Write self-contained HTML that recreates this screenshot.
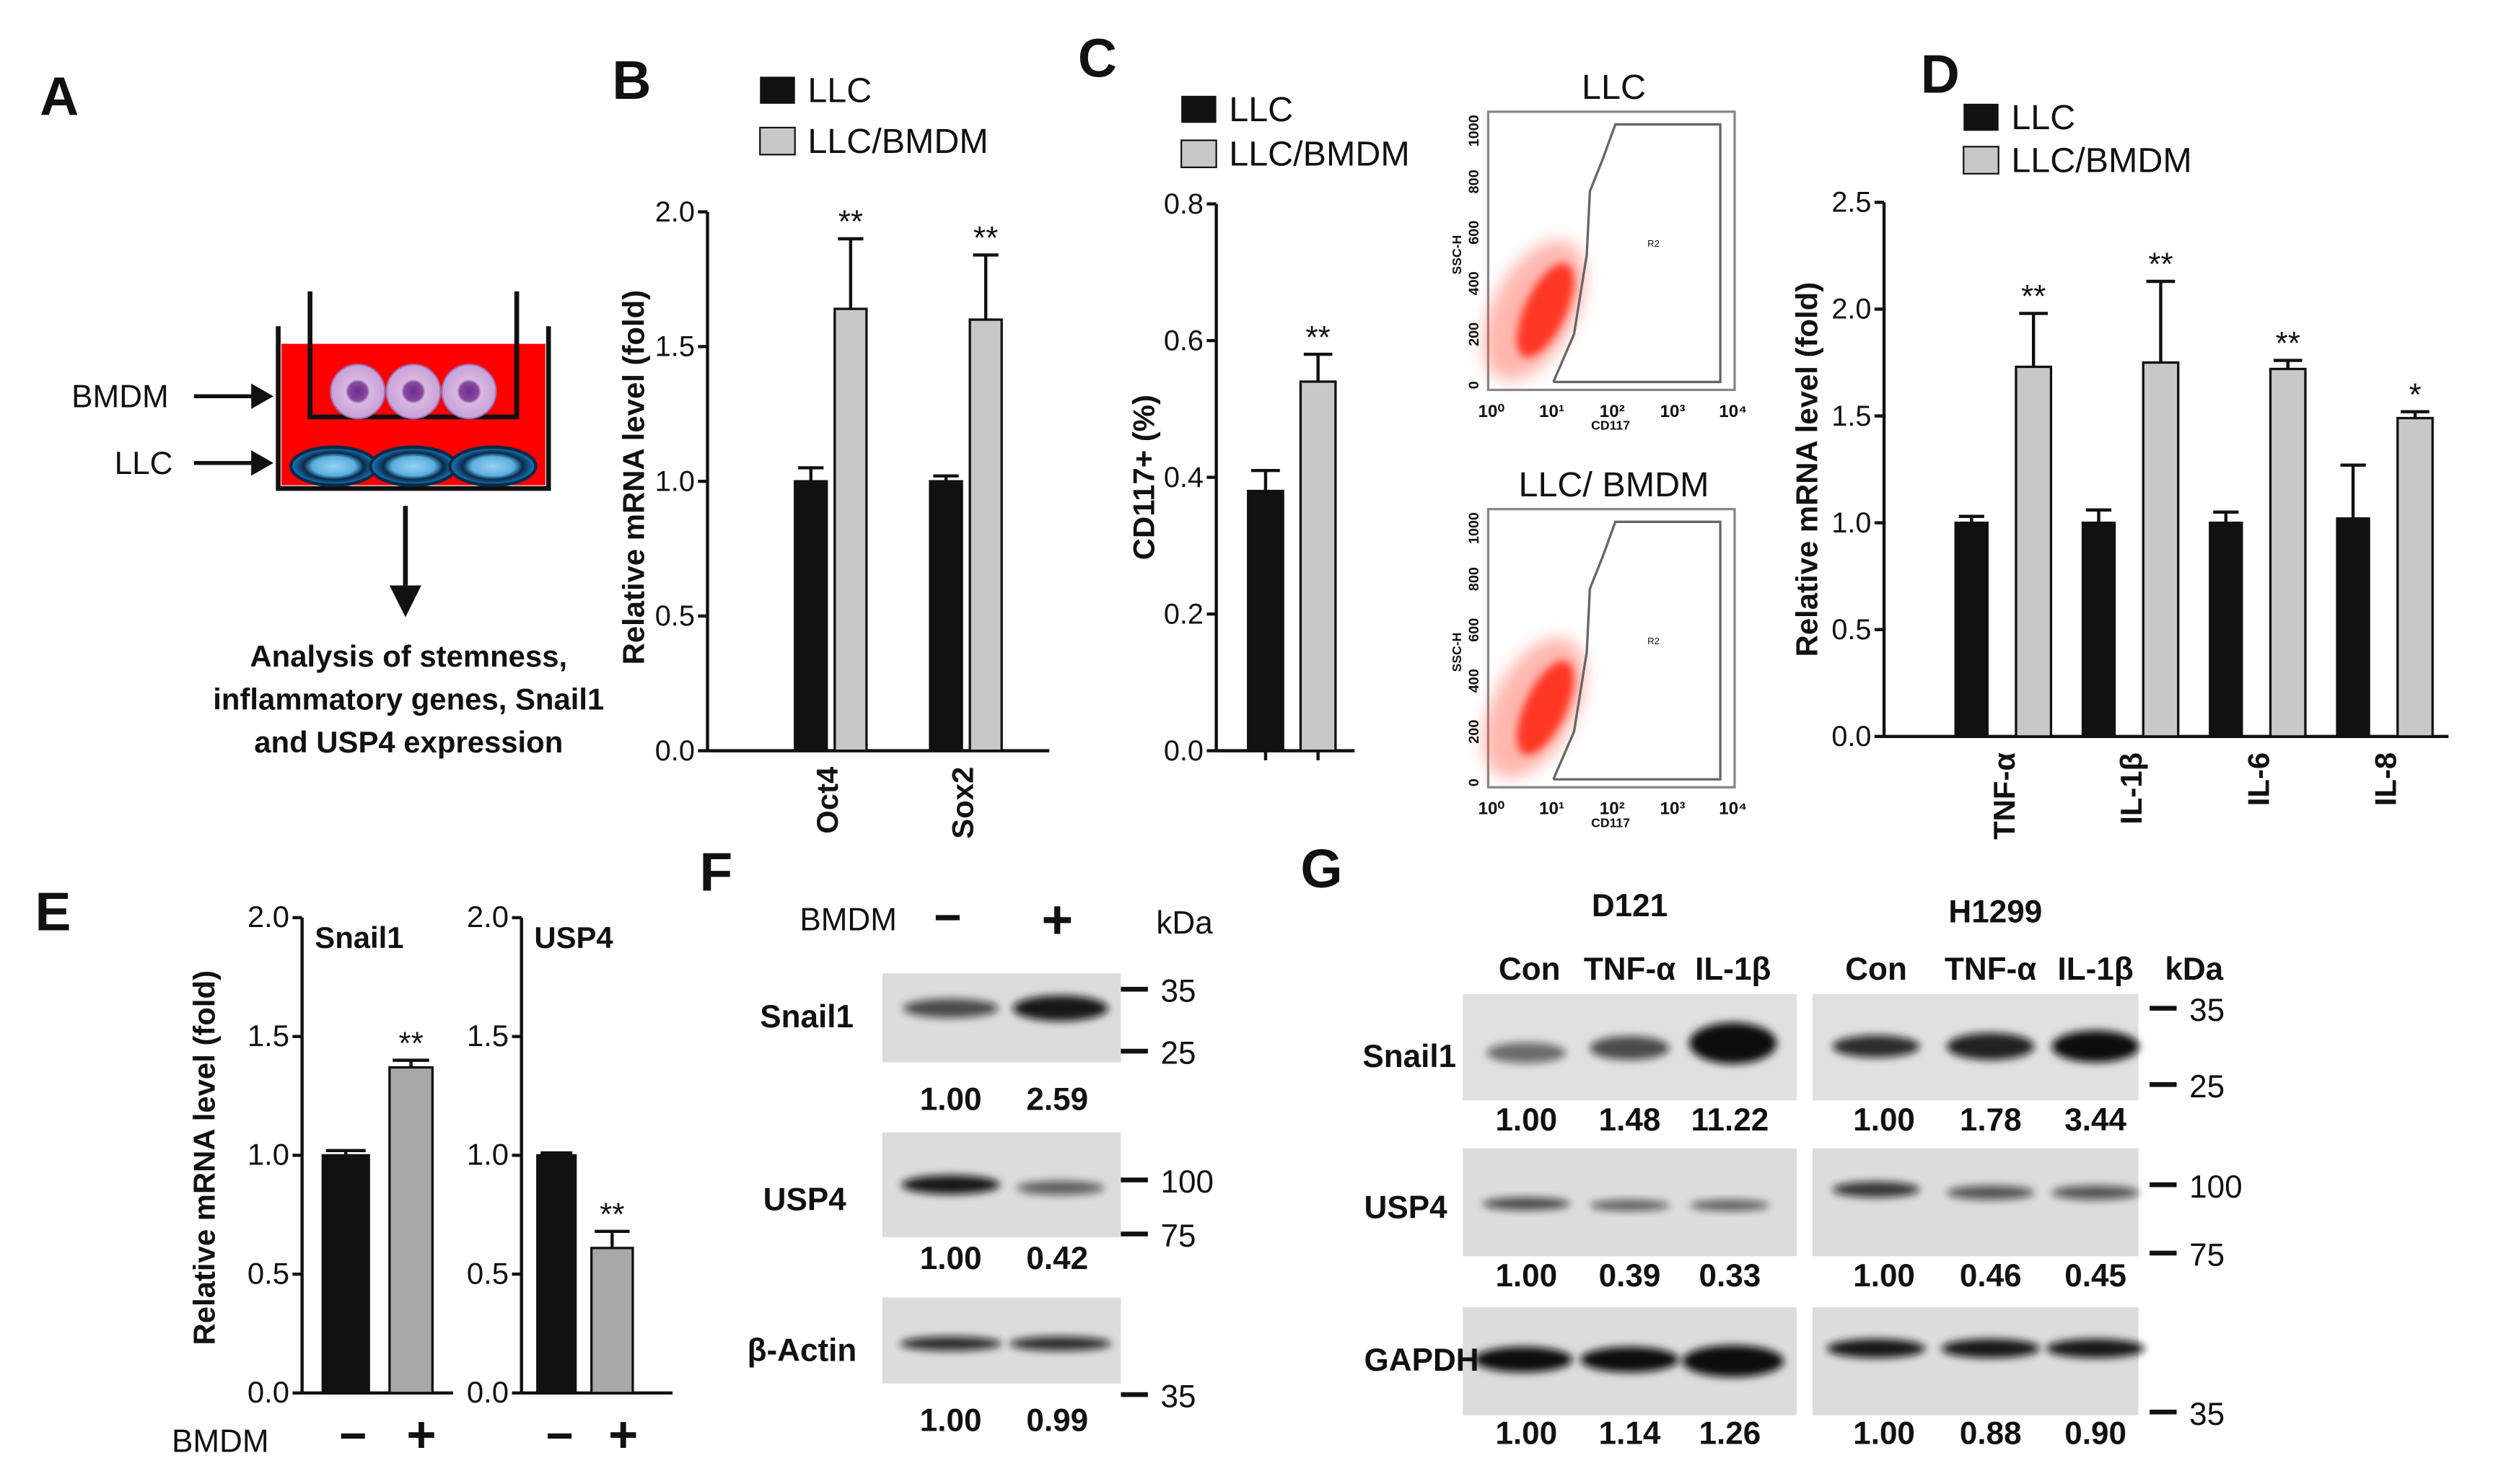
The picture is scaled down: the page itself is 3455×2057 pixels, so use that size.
<!DOCTYPE html>
<html><head><meta charset="utf-8"><style>
html,body{margin:0;padding:0;background:#fff;}
svg{display:block;font-family:"Liberation Sans",Arial,sans-serif;}
</style></head><body>
<svg id="fig" width="3455" height="2057" viewBox="0 0 1568 933" xmlns="http://www.w3.org/2000/svg">
<defs>
<filter id="blur1" x="-50%" y="-50%" width="200%" height="200%"><feGaussianBlur stdDeviation="2.5"/></filter>
<filter id="blur2" x="-50%" y="-50%" width="200%" height="200%"><feGaussianBlur stdDeviation="5"/></filter>
<radialGradient id="cellg"><stop offset="0" stop-color="#6a2a8a"/><stop offset="0.35" stop-color="#8a4aa0"/><stop offset="0.45" stop-color="#d8b8e0"/><stop offset="1" stop-color="#c8a0d8"/></radialGradient>
<radialGradient id="llcg"><stop offset="0" stop-color="#9ad0f0"/><stop offset="0.5" stop-color="#5ab0e0"/><stop offset="0.7" stop-color="#0a2a4a"/><stop offset="1" stop-color="#1a80c0"/></radialGradient>
</defs>
</svg>
<script>
const NS='http://www.w3.org/2000/svg';
const svg=document.getElementById('fig');
function mk(tag,attrs,parent){const e=document.createElementNS(NS,tag);for(const k in attrs)e.setAttribute(k,attrs[k]);(parent||svg).appendChild(e);return e;}
function tx(x,y,s,size,anchor,weight,parent,rot){const e=mk('text',{x:x,y:y,'font-size':size,'text-anchor':anchor||'middle','font-weight':weight||'bold',fill:'#111'},parent);if(rot)e.setAttribute('transform','rotate('+rot+' '+x+' '+y+')');e.textContent=s;return e;}

// ---------- DATA ----------
const bCats=['Oct4','Sox2'];
const bLLC=[1.0,1.0];
const bLLCErr=[0.05,0.02];
const bBMDM=[1.64,1.60];
const bBMDMErr=[0.26,0.24];
const bStars=['**','**'];
const bTicks=[0,0.5,1.0,1.5,2.0];
const bTickLabels=['0.0','0.5','1.0','1.5','2.0'];

const cCats=[''];
const cLLC=[0.38];
const cLLCErr=[0.03];
const cBMDM=[0.54];
const cBMDMErr=[0.04];
const cStars=['**'];
const cTicks=[0,0.2,0.4,0.6,0.8];
const cTickLabels=['0.0','0.2','0.4','0.6','0.8'];

const dCats=['TNF-α','IL-1β','IL-6','IL-8'];
const dLLC=[1.0,1.0,1.0,1.02];
const dLLCErr=[0.03,0.06,0.05,0.25];
const dBMDM=[1.73,1.75,1.72,1.49];
const dBMDMErr=[0.25,0.38,0.04,0.03];
const dStars=['**','**','**','*'];
const dTicks=[0,0.5,1.0,1.5,2.0,2.5];
const dTickLabels=['0.0','0.5','1.0','1.5','2.0','2.5'];

const eSnailVals=[1.0,1.37];
const eSnailErr=[0.02,0.03];
const eUspVals=[1.0,0.61];
const eUspErr=[0.01,0.07];
const eTicks=[0,0.5,1.0,1.5,2.0];
const eTickLabels=['0.0','0.5','1.0','1.5','2.0'];

// ---------- AXIS HELPERS ----------
function yAxis(g,ax,yb,yt,vmax,ticks,labels,fs){
  const sy=v=>yb-(v/vmax)*(yb-yt);
  const l=mk('line',{x1:ax,y1:yt,x2:ax,y2:yb,stroke:'#111','stroke-width':2},g);
  
  
  ticks.forEach((t,i)=>{
    const tk=mk('line',{x1:ax-6,y1:sy(t),x2:ax,y2:sy(t),stroke:'#111','stroke-width':2},g);
    
    
    const lb=tx(ax-8,sy(t)+6,labels[i],fs||18,'end','normal',g);
    
    
  });
  return sy;
}
function bar(g,x,w,v,err,sy,fill,name){
  const r=mk('rect',{x:x,y:sy(v),width:w,height:sy(0)-sy(v),fill:fill,stroke:'#111','stroke-width':1.5},g);
  
  
  const top=sy(v),et=sy(v+err),cx=x+w/2;
  const e1=mk('line',{x1:cx,y1:top,x2:cx,y2:et,stroke:'#111','stroke-width':2},g);
  
  
  const e2=mk('line',{x1:cx-w/2+2,y1:et,x2:cx+w/2-2,y2:et,stroke:'#111','stroke-width':2},g);
  
  
  return et;
}
function legend(g,x,y1,y2,fs){
  const a=mk('rect',{x:x,y:y1,width:22,height:17,fill:'#111'},g);
  
  
  const at=tx(x+30,y1+16,'LLC',fs,'start','normal',g);
  
  
  const b=mk('rect',{x:x,y:y2,width:22,height:17,fill:'#c8c8c8',stroke:'#111','stroke-width':1},g);
  
  
  const bt=tx(x+30,y2+16,'LLC/BMDM',fs,'start','normal',g);
  
  
}
function panelLetter(x,y,s){const t=tx(x,y,s,34,'start','bold');}

// ---------- PANEL A ----------
(function(){
  panelLetter(25,72,'A');
  const g=mk('g',{});
  
  
  mk('rect',{x:177,y:216,width:166,height:89,fill:'#ff0000'},g);
  mk('polyline',{points:'175,205 175,307 345,307 345,205',fill:'none',stroke:'#111','stroke-width':3},g);
  mk('polyline',{points:'195,183 195,262 325,262 325,183',fill:'none',stroke:'#111','stroke-width':3},g);
  [225,260,295].forEach(cx=>{mk('circle',{cx:cx,cy:246,r:17,fill:'url(#cellg)',stroke:'#a070b0'},g);});
  [210,260,310].forEach(cx=>{mk('ellipse',{cx:cx,cy:293,rx:27,ry:12,fill:'url(#llcg)',stroke:'#0a2a4a','stroke-width':2},g);});
  tx(45,256,'BMDM',20,'start','normal',g);
  mk('line',{x1:122,y1:249,x2:160,y2:249,stroke:'#111','stroke-width':2.5},g);
  mk('polygon',{points:'172,249 158,241 158,257',fill:'#111'},g);
  tx(72,298,'LLC',20,'start','normal',g);
  mk('line',{x1:122,y1:291,x2:160,y2:291,stroke:'#111','stroke-width':2.5},g);
  mk('polygon',{points:'172,291 158,283 158,299',fill:'#111'},g);
  mk('line',{x1:255,y1:318,x2:255,y2:372,stroke:'#111','stroke-width':3},g);
  mk('polygon',{points:'255,388 245,368 265,368',fill:'#111'},g);
  const t1=tx(257,419,'Analysis of stemness,',19,'middle','bold');
  
  tx(257,446,'inflammatory genes, Snail1',19,'middle','bold');
  tx(257,473,'and USP4 expression',19,'middle','bold');
})();

// ---------- PANEL B ----------
(function(){
  panelLetter(385,62,'B');
  const g=mk('g',{});
  
  
  legend(g,478,48,80,22);
  const sy=yAxis(g,445,472,133,2.0,bTicks,bTickLabels,18);
  const xl=mk('line',{x1:445,y1:472,x2:660,y2:472,stroke:'#111','stroke-width':2},g);
  
  bCats.forEach((c,i)=>{
    const cx=522+i*85;
    bar(g,cx-22,20,bLLC[i],bLLCErr[i],sy,'#111','bar-llc-'+c.toLowerCase());
    const et=bar(g,cx+3,20,bBMDM[i],bBMDMErr[i],sy,'#c8c8c8','bar-llc-bmdm-'+c.toLowerCase());
    const s=tx(cx+13,et-4,bStars[i],20,'middle','normal',g);
    const lb=tx(cx+5,482,c,19,'end','bold',g,-90);
  });
  const yt=tx(405,300,'Relative mRNA level (fold)',19,'middle','bold',g,-90);
  
})();

// ---------- PANEL C ----------
(function(){
  panelLetter(678,48,'C');
  const g=mk('g',{});
  
  
  legend(g,743,60,88,22);
  const sy=yAxis(g,765,472,128,0.8,cTicks,cTickLabels,18);
  const xl=mk('line',{x1:765,y1:472,x2:852,y2:472,stroke:'#111','stroke-width':2},g);
  
  [796,829].forEach(x=>mk('line',{x1:x,y1:472,x2:x,y2:478,stroke:'#111','stroke-width':2},g));
  cCats.forEach((c,i)=>{
    const cx=812;
    bar(g,cx-27,22,cLLC[i],cLLCErr[i],sy,'#111','bar-llc');
    const et=bar(g,cx+6,22,cBMDM[i],cBMDMErr[i],sy,'#c8c8c8','bar-llc-bmdm');
    const s=tx(cx+17,et-4,cStars[i],20,'middle','normal',g);
  });
  const yt=tx(726,300,'CD117+ (%)',19,'middle','bold',g,-90);
  
  function flow(y0,title,name){
    const f=mk('g',{});
    
    
    const t=tx(1015,y0-8,title,22,'middle','normal',f);
    mk('rect',{x:936,y:y0,width:155,height:175,fill:'#fff',stroke:'#888','stroke-width':1.5},f);
    mk('ellipse',{cx:965,cy:y0+125,rx:26,ry:48,fill:'#ff6050',opacity:0.45,filter:'url(#blur2)',transform:'rotate(28 965 '+(y0+125)+')'},f);
    mk('ellipse',{cx:972,cy:y0+125,rx:13,ry:32,fill:'#ff2010',opacity:0.85,filter:'url(#blur1)',transform:'rotate(25 972 '+(y0+125)+')'},f);
    mk('polyline',{points:(977)+','+(y0+170)+' 990,'+(y0+140)+' 998,'+(y0+90)+' 1000,'+(y0+50)+' 1008,'+(y0+30)+' 1016,'+(y0+8)+' 1082,'+(y0+8)+' 1082,'+(y0+170)+' 977,'+(y0+170),fill:'none',stroke:'#666','stroke-width':1.5},f);
    tx(1040,y0+85,'R2',6,'middle','normal',f);
    const ys=['0','200','400','600','800','1000'];
    ys.forEach((v,i)=>tx(930,y0+172-i*32,v,9,'middle','bold',f,-90));
    tx(919,y0+90,'SSC-H',8,'middle','bold',f,-90);
    ['10⁰','10¹','10²','10³','10⁴'].forEach((v,i)=>tx(938+i*38,y0+192,v,11,'middle','bold',f));
    tx(1013,y0+200,'CD117',8,'middle','bold',f);
  }
  flow(70,'LLC','flow-plot-llc');
  flow(320,'LLC/ BMDM','flow-plot-llc-bmdm');
})();

// ---------- PANEL D ----------
(function(){
  panelLetter(1208,58,'D');
  const g=mk('g',{});
  
  
  legend(g,1235,65,92,22);
  const sy=yAxis(g,1185,463,127,2.5,dTicks,dTickLabels,18);
  const xl=mk('line',{x1:1185,y1:463,x2:1540,y2:463,stroke:'#111','stroke-width':2},g);
  
  dCats.forEach((c,i)=>{
    const cx=1260+i*80;
    bar(g,cx-30,20,dLLC[i],dLLCErr[i],sy,'#111','bar-llc-'+i);
    const et=bar(g,cx+8,22,dBMDM[i],dBMDMErr[i],sy,'#c8c8c8','bar-llc-bmdm-'+i);
    const s=tx(cx+19,et-4,dStars[i],20,'middle','normal',g);
    const lb=tx(cx+7,473,c,19,'end','bold',g,-90);
  });
  const yt=tx(1143,295,'Relative mRNA level (fold)',19,'middle','bold',g,-90);
  
})();

// ---------- PANEL E ----------
(function(){
  panelLetter(22,585,'E');
  const g=mk('g',{});
  
  
  function sub(ax,vals,errs,title,stars,xs,ws,name){
    const sg=mk('g',{},g);
    
    
    const sy=yAxis(sg,ax,876,577,2.0,eTicks,eTickLabels,19);
    mk('line',{x1:ax,y1:876,x2:ax+95,y2:876,stroke:'#111','stroke-width':2},sg);
    const t=tx(ax+8,596,title,19,'start','bold',sg);
    bar(sg,xs[0],ws[0],vals[0],errs[0],sy,'#111','bar-control');
    const et=bar(sg,xs[1],ws[1],vals[1],errs[1],sy,'#a8a8a8','bar-bmdm');
    const s=tx(xs[1]+ws[1]/2,et-4,stars,20,'middle','normal',sg);
  }
  sub(190,eSnailVals,eSnailErr,'Snail1','**',[203,245],[29,27],'chart-e-snail1');
  sub(328,eUspVals,eUspErr,'USP4','**',[338,372],[24,26],'chart-e-usp4');
  const yt=tx(135,728,'Relative mRNA level (fold)',19,'middle','bold',g,-90);
  
  tx(108,913,'BMDM',20,'start','normal',g);
  tx(222,913,'−',30,'middle','bold',g);tx(265,913,'+',32,'middle','bold',g);
  tx(352,913,'−',30,'middle','bold',g);tx(392,913,'+',32,'middle','bold',g);
})();

// ---------- BLOT HELPERS ----------
function band(g,cx,cy,w,h,op){
  mk('ellipse',{cx:cx,cy:cy,rx:w/2,ry:h/2,fill:'#111',opacity:op,filter:'url(#blur1)'},g);
}
function blot(x,y,w,h,bands,name,bg){
  const g=mk('g',{});
  
  
  mk('rect',{x:x,y:y,width:w,height:h,fill:bg||'#dcdcdc'},g);
  bands.forEach(b=>band(g,b[0],b[1],b[2],b[3],b[4]));
  return g;
}
function marker(x,y,label){
  const l=mk('line',{x1:x,y1:y,x2:x+17,y2:y,stroke:'#111','stroke-width':3});
  
  tx(x+25,y+8,label,20,'start','normal');
}

// ---------- PANEL F ----------
(function(){
  panelLetter(440,560,'F');
  tx(503,585,'BMDM',20,'start','normal');
  tx(596,587,'−',30,'middle','bold');tx(665,590,'+',34,'middle','bold');
  tx(745,587,'kDa',20,'middle','normal');
  blot(555,612,150,56,[[598,634,60,12,0.7],[667,634,60,16,0.95]],'blot-f-snail1');
  tx(478,646,'Snail1',20,'start','bold');
  marker(705,622,'35');marker(705,661,'25');
  tx(598,698,'1.00',20);tx(665,698,'2.59',20);
  blot(555,712,150,66,[[598,745,62,12,0.95],[667,747,55,9,0.6]],'blot-f-usp4');
  tx(480,761,'USP4',20,'start','bold');
  marker(705,742,'100');marker(705,776,'75');
  tx(598,798,'1.00',20);tx(665,798,'0.42',20);
  blot(555,816,150,54,[[598,845,64,9,0.85],[667,845,64,9,0.85]],'blot-f-beta-actin');
  tx(470,856,'β-Actin',20,'start','bold');
  marker(705,877,'35');
  tx(598,900,'1.00',20);tx(665,900,'0.99',20);
})();

// ---------- PANEL G ----------
(function(){
  panelLetter(818,558,'G');
  tx(1025,576,'D121',20);tx(1255,580,'H1299',20);
  tx(962,616,'Con',20);tx(1025,616,'TNF-α',20);tx(1090,616,'IL-1β',20);
  tx(1180,616,'Con',20);tx(1252,616,'TNF-α',20);tx(1318,616,'IL-1β',20);tx(1380,616,'kDa',20);
  blot(920,625,210,67,[[960,662,50,13,0.55],[1025,659,50,15,0.7],[1090,656,55,26,1]],'blot-g-d121-snail1','#e0e0e0');
  blot(1140,625,205,67,[[1180,658,55,14,0.85],[1252,658,55,17,0.9],[1318,658,55,20,1]],'blot-g-h1299-snail1','#e0e0e0');
  tx(857,671,'Snail1',20,'start','bold');
  tx(960,711,'1.00',20);tx(1025,711,'1.48',20);tx(1088,711,'11.22',20);
  tx(1185,711,'1.00',20);tx(1252,711,'1.78',20);tx(1318,711,'3.44',20);
  marker(1352,634,'35');marker(1352,682,'25');
  blot(920,722,210,68,[[960,757,55,8,0.7],[1025,758,50,7,0.6],[1088,758,50,7,0.6]],'blot-g-d121-usp4');
  blot(1140,722,205,68,[[1180,748,55,10,0.8],[1252,750,55,9,0.65],[1318,750,55,9,0.65]],'blot-g-h1299-usp4');
  tx(858,766,'USP4',20,'start','bold');
  tx(960,809,'1.00',20);tx(1025,809,'0.39',20);tx(1088,809,'0.33',20);
  tx(1185,809,'1.00',20);tx(1252,809,'0.46',20);tx(1318,809,'0.45',20);
  marker(1352,745,'100');marker(1352,788,'75');
  blot(920,822,210,68,[[958,855,62,16,1],[1025,855,62,16,1],[1090,856,64,20,1]],'blot-g-d121-gapdh');
  blot(1140,822,205,68,[[1180,848,62,12,0.95],[1252,848,62,12,0.95],[1318,848,62,12,0.95]],'blot-g-h1299-gapdh');
  tx(858,862,'GAPDH',20,'start','bold');
  tx(960,908,'1.00',20);tx(1025,908,'1.14',20);tx(1088,908,'1.26',20);
  tx(1185,908,'1.00',20);tx(1252,908,'0.88',20);tx(1318,908,'0.90',20);
  marker(1352,888,'35');
})();
</script>
</body></html>
